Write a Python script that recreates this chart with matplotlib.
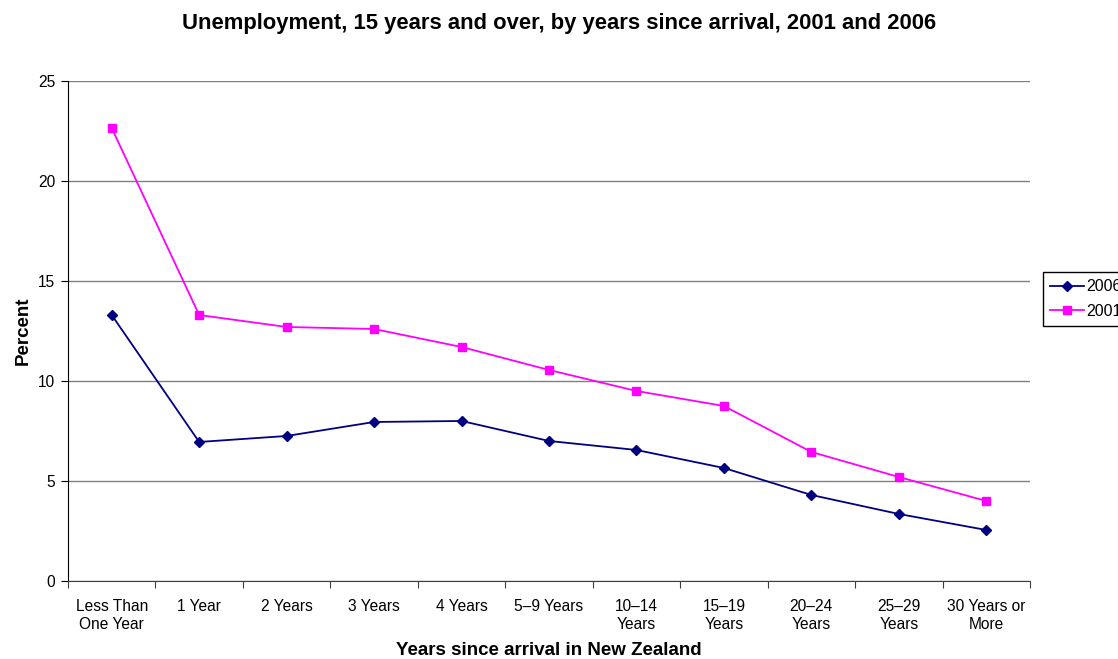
import matplotlib
matplotlib.use("Agg")
import matplotlib.pyplot as plt

plt.rcParams['font.family'] = ['Liberation Sans', 'DejaVu Sans']

categories = ["Less Than\nOne Year", "1 Year", "2 Years", "3 Years", "4 Years",
              "5\u20139 Years", "10\u201314\nYears", "15\u201319\nYears",
              "20\u201324\nYears", "25\u201329\nYears", "30 Years or\nMore"]
unemp_2006 = [13.3, 6.95, 7.25, 7.95, 8.0, 7.0, 6.55, 5.65, 4.3, 3.35, 2.55]
unemp_2001 = [22.65, 13.3, 12.7, 12.6, 11.7, 10.55, 9.5, 8.75, 6.45, 5.2, 4.0]

fig = plt.figure(figsize=(11.18, 6.59), dpi=100)
ax = fig.add_axes([0.0608, 0.1184, 0.8605, 0.7587])

x = range(len(categories))
ax.plot(x, unemp_2006, "-", color="#000080", marker="D", markersize=5,
        linewidth=1.3, label="2006")
ax.plot(x, unemp_2001, "-", color="#FF00FF", marker="s", markersize=6,
        linewidth=1.3, label="2001")

ax.set_xlim(-0.5, len(categories) - 0.5)
ax.set_ylim(0, 25)
ax.set_yticks([0, 5, 10, 15, 20, 25])
ax.yaxis.grid(True, color="#808080", linewidth=1)
ax.set_axisbelow(True)

# ticks at category boundaries, labels at category centres
ax.set_xticks([i + 0.5 for i in range(-1, len(categories))])
ax.set_xticklabels([])
ax.set_xticks(list(x), minor=True)
ax.set_xticklabels(categories, minor=True, fontsize=11.2, linespacing=1.25)
ax.tick_params(axis="x", which="minor", length=0, pad=13)
ax.tick_params(axis="x", which="major", length=5, color="#404040")
ax.tick_params(axis="y", length=5, labelsize=11.2, pad=4)

for side in ("top", "right"):
    ax.spines[side].set_visible(False)
ax.spines["bottom"].set_color("#404040")

ax.set_xlabel("Years since arrival in New Zealand", fontsize=13.5, fontweight="bold", labelpad=7)
ax.set_ylabel("Percent", fontsize=13.5, fontweight="bold", labelpad=5)
fig.suptitle("Unemployment, 15 years and over, by years since arrival, 2001 and 2006",
             fontsize=15.8, fontweight="bold", y=0.98)

ax.legend(loc="upper left", bbox_to_anchor=(1043 / 1118, 1 - 272 / 659),
          bbox_transform=fig.transFigure, fancybox=False, edgecolor="black",
          fontsize=11.5, handlelength=2.1, handletextpad=0.15,
          borderaxespad=0, borderpad=0.45, labelspacing=0.6, framealpha=1)

fig.savefig("out.png", dpi=100)
